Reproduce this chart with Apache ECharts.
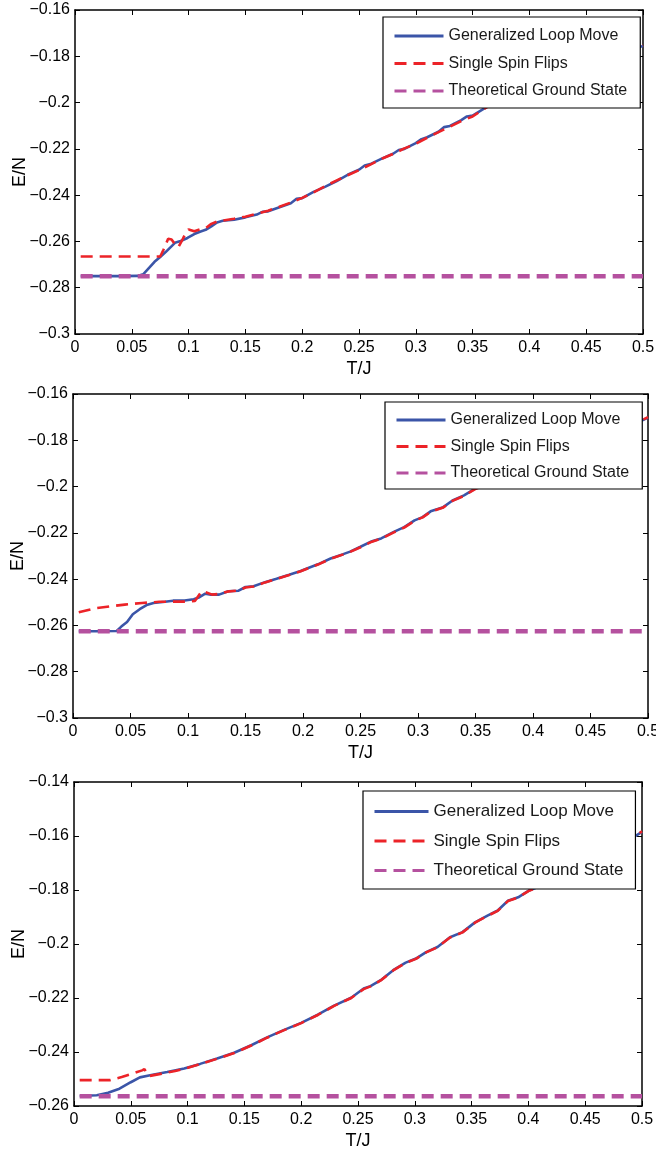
<!DOCTYPE html>
<html>
<head>
<meta charset="utf-8">
<script src="https://cdn.jsdelivr.net/npm/echarts@6/dist/echarts.min.js"></script>
<style>
  html, body { margin: 0; padding: 0; background: #fff; }
  #chart { width: 656px; height: 1155px; }
</style>
</head>
<body>
<div id="chart"></div>
<script>
// data: [T/J, E/N]
const seriesNames = ['Generalized Loop Move', 'Single Spin Flips', 'Theoretical Ground State'];

const loop1 = [[0.005,-0.275],[0.02,-0.275],[0.04,-0.275],[0.055,-0.2749],[0.06,-0.2742],[0.066,-0.271],[0.07,-0.2688],[0.075,-0.2667],[0.08,-0.2645],[0.088,-0.2606],[0.093,-0.2598],[0.099,-0.2585],[0.105,-0.2568],[0.11,-0.2558],[0.115,-0.255],[0.12,-0.2535],[0.125,-0.2518],[0.13,-0.2511],[0.14,-0.2506],[0.15,-0.2496],[0.16,-0.2484],[0.165,-0.2472],[0.17,-0.247],[0.18,-0.2452],[0.19,-0.2435],[0.195,-0.2416],[0.2,-0.2413],[0.21,-0.2386],[0.22,-0.2364],[0.23,-0.234],[0.24,-0.2312],[0.25,-0.229],[0.255,-0.2272],[0.26,-0.2266],[0.27,-0.2242],[0.28,-0.2221],[0.285,-0.2205],[0.29,-0.22],[0.3,-0.2175],[0.305,-0.2158],[0.31,-0.215],[0.32,-0.2126],[0.325,-0.2106],[0.33,-0.2101],[0.34,-0.2076],[0.345,-0.206],[0.35,-0.2056],[0.36,-0.2026],[0.37,-0.1996],[0.4,-0.1935],[0.45,-0.185],[0.5,-0.1755]];
const spin1 = [[0.005,-0.2665],[0.04,-0.2665],[0.075,-0.2665],[0.078,-0.2635],[0.082,-0.2588],[0.085,-0.2592],[0.088,-0.2612],[0.091,-0.2625],[0.094,-0.2598],[0.097,-0.2568],[0.1,-0.2548],[0.105,-0.2556],[0.11,-0.2548],[0.115,-0.2543],[0.12,-0.2524],[0.125,-0.2514],[0.13,-0.251],[0.14,-0.2502],[0.15,-0.2493],[0.16,-0.2481],[0.17,-0.2467],[0.18,-0.245],[0.19,-0.2432],[0.2,-0.2412],[0.21,-0.2388],[0.22,-0.2362],[0.23,-0.2337],[0.24,-0.2314],[0.25,-0.2292],[0.26,-0.2268],[0.27,-0.2243],[0.28,-0.2222],[0.29,-0.2198],[0.3,-0.2178],[0.31,-0.2152],[0.32,-0.2128],[0.33,-0.2104],[0.34,-0.208],[0.35,-0.206],[0.36,-0.2028],[0.37,-0.1998],[0.4,-0.1937],[0.45,-0.1848],[0.5,-0.1752]];
const ground1 = [[0.005,-0.275],[0.5,-0.275]];

const loop2 = [[0.005,-0.2625],[0.02,-0.2625],[0.038,-0.2624],[0.042,-0.2605],[0.047,-0.2585],[0.052,-0.2552],[0.058,-0.253],[0.064,-0.2512],[0.07,-0.2503],[0.08,-0.2498],[0.087,-0.2493],[0.097,-0.2492],[0.105,-0.2487],[0.11,-0.2478],[0.115,-0.2463],[0.12,-0.2467],[0.127,-0.2467],[0.135,-0.2452],[0.144,-0.245],[0.15,-0.2434],[0.157,-0.2431],[0.167,-0.2413],[0.177,-0.2398],[0.188,-0.2381],[0.198,-0.2365],[0.204,-0.2353],[0.213,-0.2336],[0.224,-0.2311],[0.235,-0.2292],[0.241,-0.2281],[0.25,-0.226],[0.26,-0.2236],[0.268,-0.2224],[0.279,-0.2196],[0.288,-0.2175],[0.297,-0.2146],[0.304,-0.2132],[0.311,-0.2107],[0.322,-0.2089],[0.33,-0.206],[0.34,-0.2038],[0.35,-0.2008],[0.37,-0.1972],[0.4,-0.1915],[0.45,-0.1822],[0.5,-0.1702]];
const spin2 = [[0.005,-0.2543],[0.02,-0.2525],[0.035,-0.2516],[0.045,-0.251],[0.06,-0.2503],[0.075,-0.2498],[0.09,-0.2497],[0.1,-0.2497],[0.106,-0.2494],[0.112,-0.2452],[0.116,-0.2458],[0.121,-0.2467],[0.127,-0.2464],[0.134,-0.2454],[0.144,-0.2449],[0.15,-0.2436],[0.157,-0.2432],[0.167,-0.2414],[0.177,-0.2399],[0.188,-0.2382],[0.198,-0.2366],[0.204,-0.2354],[0.213,-0.2337],[0.224,-0.2312],[0.235,-0.2293],[0.241,-0.2282],[0.25,-0.2262],[0.26,-0.2238],[0.268,-0.2225],[0.279,-0.2198],[0.288,-0.2177],[0.297,-0.2148],[0.304,-0.2133],[0.311,-0.2109],[0.322,-0.209],[0.33,-0.2062],[0.34,-0.204],[0.35,-0.201],[0.37,-0.1974],[0.4,-0.1917],[0.45,-0.1824],[0.5,-0.17]];
const ground2 = [[0.005,-0.2625],[0.5,-0.2625]];

const loop3 = [[0.005,-0.2563],[0.02,-0.256],[0.03,-0.2551],[0.04,-0.2536],[0.05,-0.2512],[0.058,-0.2494],[0.067,-0.2486],[0.082,-0.2474],[0.097,-0.2461],[0.111,-0.2444],[0.126,-0.2424],[0.141,-0.2403],[0.156,-0.2375],[0.17,-0.2346],[0.185,-0.2318],[0.2,-0.2292],[0.215,-0.2261],[0.229,-0.2228],[0.244,-0.2199],[0.255,-0.2165],[0.261,-0.2156],[0.27,-0.2134],[0.281,-0.2097],[0.292,-0.2069],[0.301,-0.2054],[0.31,-0.203],[0.32,-0.2011],[0.331,-0.1975],[0.342,-0.1956],[0.353,-0.192],[0.364,-0.1895],[0.373,-0.1876],[0.382,-0.184],[0.391,-0.1827],[0.4,-0.1803],[0.43,-0.1752],[0.46,-0.169],[0.5,-0.1585]];
const spin3 = [[0.005,-0.2504],[0.02,-0.2504],[0.032,-0.2504],[0.042,-0.2493],[0.053,-0.2478],[0.06,-0.2468],[0.062,-0.2463],[0.064,-0.2479],[0.066,-0.2489],[0.075,-0.2482],[0.089,-0.247],[0.097,-0.2462],[0.111,-0.2445],[0.126,-0.2425],[0.141,-0.2404],[0.156,-0.2376],[0.17,-0.2347],[0.185,-0.2319],[0.2,-0.2293],[0.215,-0.2262],[0.229,-0.2229],[0.244,-0.22],[0.255,-0.2167],[0.261,-0.2157],[0.27,-0.2135],[0.281,-0.2098],[0.292,-0.207],[0.301,-0.2055],[0.31,-0.2031],[0.32,-0.2012],[0.331,-0.1976],[0.342,-0.1957],[0.353,-0.1921],[0.364,-0.1896],[0.373,-0.1877],[0.382,-0.1841],[0.391,-0.1828],[0.4,-0.1804],[0.43,-0.1753],[0.46,-0.1691],[0.5,-0.1583]];
const ground3 = [[0.005,-0.2564],[0.5,-0.2564]];

// y ranges of the three panels
const yRanges = [[-0.3, -0.16], [-0.3, -0.16], [-0.26, -0.14]];

const FONT = "'Liberation Sans', Arial, sans-serif";
const BLUE = '#3b55a8';
const RED = '#ec2328';
const MAGENTA = '#b5519f';

// panel layout (px)
const panels = [
  {left: 75, right: 13, top: 10, height: 324, legend: {left: 383, top: 17, font: 16, w: 49, lh: 20, gap: 7.5, pad: [9, 13, 7, 10]}},
  {left: 73, right: 8, top: 394, height: 324, legend: {left: 385, top: 402, font: 16, w: 49, lh: 20, gap: 6.5, pad: [8, 13, 6, 10]}},
  {left: 74, right: 14, top: 782, height: 324, legend: {left: 363, top: 791, font: 17, w: 54, lh: 21, gap: 8.5, pad: [10, 12, 8, 10]}}
];
const panelData = [[loop1, spin1, ground1], [loop2, spin2, ground2], [loop3, spin3, ground3]];

function fmt(v) {
  const s = String(parseFloat(Math.abs(v).toFixed(2)));
  return v < 0 ? '\u2212' + s : s;
}

const grid = [], xAxis = [], yAxis = [], legend = [], series = [];

panels.forEach((p, i) => {
  grid.push({left: p.left, right: p.right, top: p.top, height: p.height, containLabel: false, outerBoundsMode: 'none'});
  const tick = {show: true, inside: true, length: 5, lineStyle: {color: '#000', width: 1}};
  const line = {show: true, onZero: false, lineStyle: {color: '#000', width: 1.5}};
  xAxis.push({
    type: 'value', gridIndex: i, position: 'bottom', min: 0, max: 0.5, interval: 0.05,
    axisLine: line, axisTick: tick, splitLine: {show: false},
    axisLabel: {color: '#000', fontSize: 16, fontFamily: FONT, margin: 6, formatter: fmt, showMaxLabel: true},
    name: 'T/J', nameLocation: 'middle', nameGap: 26, nameMoveOverlap: false,
    nameTextStyle: {color: '#000', fontSize: 18, fontFamily: FONT}
  });
  xAxis.push({
    type: 'value', gridIndex: i, position: 'top', min: 0, max: 0.5, interval: 0.05,
    axisLine: line, axisTick: tick, axisLabel: {show: false}, splitLine: {show: false}
  });
  const yr = yRanges[i];
  yAxis.push({
    type: 'value', gridIndex: i, position: 'left', min: yr[0], max: yr[1], interval: 0.02,
    axisLine: line, axisTick: tick, splitLine: {show: false},
    axisLabel: {color: '#000', fontSize: 16, fontFamily: FONT, margin: 5, formatter: fmt},
    name: 'E/N', nameLocation: 'middle', nameGap: 46, nameMoveOverlap: false,
    nameTextStyle: {color: '#000', fontSize: 18, fontFamily: FONT}
  });
  yAxis.push({
    type: 'value', gridIndex: i, position: 'right', min: yr[0], max: yr[1], interval: 0.02,
    axisLine: line, axisTick: tick, axisLabel: {show: false}, splitLine: {show: false}
  });

  const L = p.legend;
  legend.push({
    orient: 'vertical', left: L.left, top: L.top,
    data: seriesNames,
    backgroundColor: '#fff', borderColor: '#000', borderWidth: 1.2, borderRadius: 0,
    padding: L.pad, itemWidth: L.w, itemHeight: 14, itemGap: L.gap,
    itemStyle: {opacity: 0},
    lineStyle: {width: 3},
    textStyle: {color: '#1a1a1a', fontSize: L.font, fontFamily: FONT, lineHeight: L.lh},
    selectedMode: false
  });

  const d = panelData[i];
  series.push({
    name: seriesNames[0], type: 'line', xAxisIndex: 2 * i, yAxisIndex: 2 * i,
    data: d[0], symbol: 'none', lineStyle: {color: BLUE, width: 2.6}, itemStyle: {color: BLUE}, z: 2
  });
  series.push({
    name: seriesNames[1], type: 'line', xAxisIndex: 2 * i, yAxisIndex: 2 * i,
    data: d[1], symbol: 'none', lineStyle: {color: RED, width: 2.6, type: [12, 7]}, itemStyle: {color: RED}, z: 3
  });
  series.push({
    name: seriesNames[2], type: 'line', xAxisIndex: 2 * i, yAxisIndex: 2 * i,
    data: d[2], symbol: 'none', lineStyle: {color: MAGENTA, width: 4.5, type: [12, 7]}, itemStyle: {color: MAGENTA}, z: 4
  });
});

const chart = echarts.init(document.getElementById('chart'));
chart.setOption({
  animation: false,
  backgroundColor: '#fff',
  grid: grid,
  xAxis: xAxis,
  yAxis: yAxis,
  legend: legend,
  series: series
});
</script>
</body>
</html>
